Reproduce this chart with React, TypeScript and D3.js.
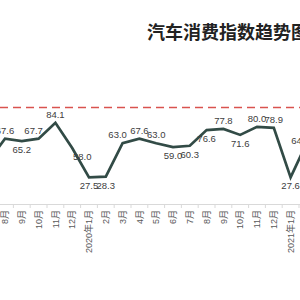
import { useEffect, useRef } from "react";
import * as d3 from "d3";

const months = [
  "7月", "8月", "9月", "10月", "11月", "12月", "2020年1月", "2月", "3月", "4月",
  "5月", "6月", "7月", "8月", "9月", "10月", "11月", "12月", "2021年1月", "2月"
];
const index = [
  44.4, 67.6, 65.2, 67.7, 84.1, 58.0, 27.5, 28.3, 63.0, 67.6,
  63.0, 59.0, 60.3, 76.6, 77.8, 71.6, 80.0, 78.9, 27.6, 64.8
];
const refValue = 100;
const title = "汽车消费指数趋势图";

// where each value label sits relative to its point
const labelSide = [
  "b", "t", "b", "tl", "t", "r", "b", "b", "tl", "t",
  "t", "b", "b", "b", "t", "b", "t", "t", "b", "l"
];

export default function App() {
  const svgRef = useRef<SVGSVGElement | null>(null);

  useEffect(() => {
    const width = 300;
    const height = 300;
    const axisY = 204;
    const font = "'Liberation Sans', 'Noto Sans CJK SC', sans-serif";

    d3.select(svgRef.current).selectAll("*").remove();

    const svg = d3
      .select(svgRef.current)
      .attr("width", width)
      .attr("height", height)
      .style("background", "#fff");

    const idx = months.map((_, i) => i);
    const step = 16.8;
    const x = d3
      .scaleBand<number>()
      .domain(idx)
      .range([-20.2, -20.2 + step * months.length])
      .padding(0);

    const y = d3.scaleLinear().domain([0, 100]).range([axisY, 107.5]);

    svg
      .append("text")
      .attr("x", 147)
      .attr("y", 39)
      .style("font-family", "'Noto Sans CJK SC', sans-serif")
      .style("font-size", "18px")
      .style("font-weight", "bold")
      .attr("fill", "#222")
      .text(title);

    // reference line
    svg
      .append("line")
      .attr("x1", 0)
      .attr("x2", width)
      .attr("y1", y(refValue))
      .attr("y2", y(refValue))
      .attr("stroke", "#d9534f")
      .attr("stroke-width", 1.6)
      .attr("stroke-dasharray", "8,5");

    // x axis
    const xAxis = d3
      .axisBottom(x)
      .tickSize(0)
      .tickPadding(0)
      .tickFormat(i => months[i as number]);

    const gx = svg
      .append("g")
      .attr("transform", `translate(0, ${axisY})`)
      .call(xAxis);
    gx.select(".domain").attr("stroke", "#d9d9d9");
    gx.selectAll(".tick text")
      .attr("transform", "rotate(-90)")
      .attr("x", -6)
      .attr("y", 0)
      .attr("dy", "0.35em")
      .style("text-anchor", "end")
      .style("font-family", font)
      .style("font-size", "9px")
      .attr("fill", "#595959");

    gx.selectAll(".bound")
      .data(idx)
      .enter()
      .append("line")
      .attr("class", "bound")
      .attr("x1", d => x(d)!)
      .attr("x2", d => x(d)!)
      .attr("y1", 0)
      .attr("y2", 4)
      .attr("stroke", "#d9d9d9");

    const cx = (i: number) => x(i)! + x.bandwidth() / 2;

    const line = d3
      .line<number>()
      .x((_, i) => cx(i))
      .y(d => y(d));

    svg
      .append("path")
      .datum(index)
      .attr("d", line)
      .attr("fill", "none")
      .attr("stroke", "#324b46")
      .attr("stroke-width", 2.7)
      .attr("stroke-linejoin", "miter");

    const dx: Record<string, number> = { t: 0, b: 0, r: 10, tl: -5, l: -7 };
    const dy: Record<string, number> = { t: -5, b: 12, r: 12, tl: -5, l: 3 };

    svg
      .selectAll(".val")
      .data(index)
      .enter()
      .append("text")
      .attr("class", "val")
      .attr("x", (_, i) => cx(i) + dx[labelSide[i]])
      .attr("y", (d, i) => y(d) + dy[labelSide[i]])
      .style("text-anchor", "middle")
      .style("font-family", font)
      .style("font-size", "9.5px")
      .attr("fill", "#404040")
      .text(d => d.toFixed(1));
  }, []);

  return (
    <svg
      ref={svgRef}
      style={{ position: "absolute", left: 0, top: 0 }}
    ></svg>
  );
}
